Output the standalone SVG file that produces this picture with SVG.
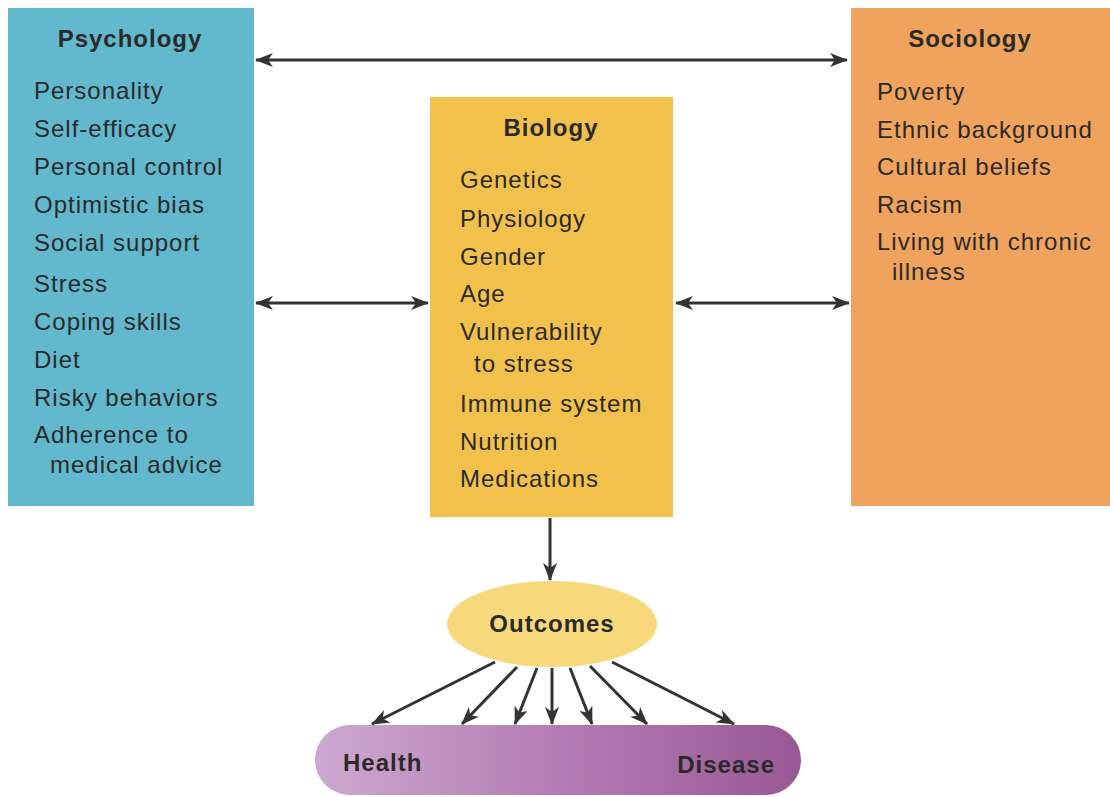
<svg xmlns="http://www.w3.org/2000/svg" width="1110" height="797" viewBox="0 0 1110 797">
<style>
.t{font-family:"Liberation Sans",Arial,sans-serif;font-size:24px;letter-spacing:1px;fill:#2a2a2a}
.h{font-family:"Liberation Sans",Arial,sans-serif;font-size:24px;font-weight:bold;letter-spacing:1px;fill:#2a2a2a}
.c{stroke:#333;stroke-width:3;fill:none}
</style>
<defs>
<marker id="ah" viewBox="0 0 18 14" refX="17" refY="7" markerWidth="18" markerHeight="14" markerUnits="userSpaceOnUse" orient="auto-start-reverse">
<path d="M0,0 L18,7 L0,14 L5,7 Z" fill="#333"/>
</marker>
<linearGradient id="pg" x1="0" y1="0" x2="1" y2="0">
<stop offset="0" stop-color="#cda8d0"/>
<stop offset="0.5" stop-color="#b47cb4"/>
<stop offset="1" stop-color="#985894"/>
</linearGradient>
</defs>
<rect width="1110" height="797" fill="#fff"/>
<g id="psychology">
<rect x="8" y="8" width="246" height="498" fill="#62b8cc"/>
<text class="h" x="130" y="47" text-anchor="middle">Psychology</text>
<text class="t" x="34" y="99">Personality</text>
<text class="t" x="34" y="137">Self-efficacy</text>
<text class="t" x="34" y="175">Personal control</text>
<text class="t" x="34" y="213">Optimistic bias</text>
<text class="t" x="34" y="251">Social support</text>
<text class="t" x="34" y="292">Stress</text>
<text class="t" x="34" y="330">Coping skills</text>
<text class="t" x="34" y="368">Diet</text>
<text class="t" x="34" y="406">Risky behaviors</text>
<text class="t" x="34" y="443">Adherence to</text>
<text class="t" x="50" y="473">medical advice</text>
</g>
<g id="biology">
<rect x="430" y="97" width="243" height="420" fill="#f2c14c"/>
<text class="h" x="551" y="136" text-anchor="middle">Biology</text>
<text class="t" x="460" y="188">Genetics</text>
<text class="t" x="460" y="227">Physiology</text>
<text class="t" x="460" y="265">Gender</text>
<text class="t" x="460" y="302">Age</text>
<text class="t" x="460" y="340">Vulnerability</text>
<text class="t" x="474" y="372">to stress</text>
<text class="t" x="460" y="412">Immune system</text>
<text class="t" x="460" y="450">Nutrition</text>
<text class="t" x="460" y="487">Medications</text>
</g>
<g id="sociology">
<rect x="851" y="8" width="259" height="498" fill="#f0a35c"/>
<text class="h" x="970" y="47" text-anchor="middle">Sociology</text>
<text class="t" x="877" y="100">Poverty</text>
<text class="t" x="877" y="138">Ethnic background</text>
<text class="t" x="877" y="175">Cultural beliefs</text>
<text class="t" x="877" y="213">Racism</text>
<text class="t" x="877" y="250">Living with chronic</text>
<text class="t" x="892" y="280">illness</text>
</g>
<g id="outcomes">
<ellipse cx="552" cy="624" rx="105" ry="43" fill="#f7d97c"/>
<text class="h" x="552" y="632" text-anchor="middle">Outcomes</text>
</g>
<g id="health-disease">
<rect x="315" y="725" width="486" height="70" rx="35" fill="url(#pg)"/>
<text class="h" x="343" y="771">Health</text>
<text class="h" x="775" y="773" text-anchor="end">Disease</text>
</g>
<g id="connectors">
<line class="c" x1="256" y1="60" x2="847" y2="60" marker-start="url(#ah)" marker-end="url(#ah)"/>
<line class="c" x1="256" y1="303" x2="428" y2="303" marker-start="url(#ah)" marker-end="url(#ah)"/>
<line class="c" x1="676" y1="303" x2="849" y2="303" marker-start="url(#ah)" marker-end="url(#ah)"/>
<line class="c" x1="550" y1="518" x2="550" y2="580" marker-end="url(#ah)"/>
<line class="c" x1="495" y1="662" x2="372" y2="724" marker-end="url(#ah)"/>
<line class="c" x1="517" y1="667" x2="462" y2="724" marker-end="url(#ah)"/>
<line class="c" x1="537" y1="668" x2="515" y2="724" marker-end="url(#ah)"/>
<line class="c" x1="552" y1="668" x2="552" y2="724" marker-end="url(#ah)"/>
<line class="c" x1="570" y1="668" x2="592" y2="724" marker-end="url(#ah)"/>
<line class="c" x1="590" y1="666" x2="647" y2="724" marker-end="url(#ah)"/>
<line class="c" x1="612" y1="662" x2="734" y2="724" marker-end="url(#ah)"/>
</g>
</svg>
